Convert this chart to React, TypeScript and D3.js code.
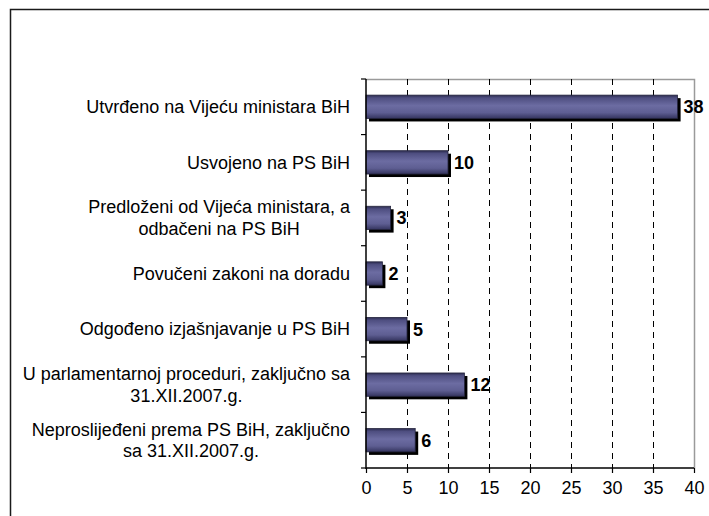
import { useEffect, useRef } from 'react'
import * as d3 from 'd3'

const categories: string[][] = [
  ['Utvrđeno na Vijeću ministara BiH'],
  ['Usvojeno na PS BiH'],
  ['Predloženi od Vijeća ministara, a', 'odbačeni na PS BiH'],
  ['Povučeni zakoni na doradu'],
  ['Odgođeno izjašnjavanje u PS BiH'],
  ['U parlamentarnoj proceduri, zaključno sa', '31.XII.2007.g.'],
  ['Neproslijeđeni prema PS BiH, zaključno', 'sa 31.XII.2007.g.'],
]
const values: number[] = [38, 10, 3, 2, 5, 12, 6]
const xTicks: number[] = [0, 5, 10, 15, 20, 25, 30, 35, 40]

export default function App() {
  const svgRef = useRef<SVGSVGElement>(null)

  useEffect(() => {
    const w = 709
    const h = 516
    const left = 366
    const right = 694
    const top = 79
    const bottom = 468
    const font = '"Liberation Sans", Arial, sans-serif'

    const svg = d3.select(svgRef.current)
      .attr('width', w)
      .attr('height', h)
    svg.selectAll('*').remove()

    //gradient for the bars
    const grad = svg.append('defs').append('linearGradient')
      .attr('id', 'barGrad')
      .attr('x1', 0).attr('y1', 0).attr('x2', 0).attr('y2', 1)
    const stops: [number, string][] = [
      [0, '#2c2c50'], [0.12, '#4e4e80'], [0.45, '#6c6ca2'],
      [0.75, '#5e5e92'], [1, '#34345e'],
    ]
    stops.forEach(([o, c]) => grad.append('stop').attr('offset', o).attr('stop-color', c))

    //outer frame
    svg.append('rect')
      .attr('x', 10.5).attr('y', 9.5)
      .attr('width', 720).attr('height', 530)
      .attr('fill', 'white')
      .attr('stroke', '#1a1a1a')
      .attr('stroke-width', 1.5)

    //scaling
    const xScale = d3.scaleLinear().domain([0, 40]).range([left, right])
    const yScale = d3.scaleBand<number>()
      .domain(d3.range(categories.length))
      .range([top, bottom])
      .paddingInner(0.58)
      .paddingOuter(0.29)
    const step = yScale.step()
    const center = (i: number) => (yScale(i) ?? 0) + yScale.bandwidth() / 2

    //plot frame (gray top/right)
    svg.append('path')
      .attr('d', `M${left},${top + 0.5}H${right + 0.5}V${bottom}`)
      .attr('fill', 'none')
      .attr('stroke', '#9a9a9a')
      .attr('stroke-width', 1.5)

    //dashed grid
    svg.append('g')
      .selectAll('line')
      .data(xTicks.filter(t => t > 0 && t < 40))
      .join('line')
        .attr('x1', d => Math.round(xScale(d)) + 0.5)
        .attr('x2', d => Math.round(xScale(d)) + 0.5)
        .attr('y1', top)
        .attr('y2', bottom)
        .attr('stroke', '#000')
        .attr('stroke-width', 1)
        .attr('stroke-dasharray', '6,5')

    //bars with shadow
    const bars = svg.append('g')
    bars.selectAll('.shadow')
      .data(values)
      .join('rect')
        .attr('class', 'shadow')
        .attr('x', xScale(0) + 3)
        .attr('y', (d, i) => (yScale(i) ?? 0) + 3)
        .attr('width', d => xScale(d) - xScale(0))
        .attr('height', yScale.bandwidth())
        .attr('fill', '#000')
    bars.selectAll('.bar')
      .data(values)
      .join('rect')
        .attr('class', 'bar')
        .attr('x', xScale(0))
        .attr('y', (d, i) => yScale(i) ?? 0)
        .attr('width', d => xScale(d) - xScale(0))
        .attr('height', yScale.bandwidth())
        .attr('fill', 'url(#barGrad)')
        .attr('stroke', '#26263f')
        .attr('stroke-width', 0.8)

    //value labels
    svg.append('g')
      .selectAll('text')
      .data(values)
      .join('text')
        .attr('x', d => xScale(d) + 6)
        .attr('y', (d, i) => center(i) + 6.5)
        .attr('font-family', font)
        .attr('font-size', 18)
        .attr('font-weight', 'bold')
        .attr('fill', '#000')
        .text(d => d)

    //axes
    const xAxis = d3.axisBottom(xScale)
      .tickValues(xTicks)
      .tickSize(5)
      .tickPadding(8)
    const gx = svg.append('g')
      .attr('transform', `translate(0, ${bottom})`)
      .call(xAxis)
    gx.select('.domain').attr('stroke', '#000').attr('stroke-width', 1.5)
      .attr('d', `M${left},0H${right}`)
    gx.selectAll('.tick line').attr('stroke', '#000').attr('stroke-width', 1.2)
    gx.selectAll('.tick text')
      .attr('font-family', font)
      .attr('font-size', 18)
      .attr('fill', '#000')

    //left axis line and ticks at category boundaries
    const gy = svg.append('g')
    gy.append('line')
      .attr('x1', left).attr('x2', left)
      .attr('y1', top).attr('y2', bottom + 1)
      .attr('stroke', '#000').attr('stroke-width', 1.5)
    gy.selectAll('.ytick')
      .data(d3.range(categories.length + 1))
      .join('line')
        .attr('class', 'ytick')
        .attr('x1', left - 5).attr('x2', left)
        .attr('y1', d => top + d * step)
        .attr('y2', d => top + d * step)
        .attr('stroke', '#000').attr('stroke-width', 1.2)

    //category labels: block right-aligned, lines centered
    const lineGap = 21.5
    categories.forEach((lines, i) => {
      const g = svg.append('g')
      const c = center(i)
      const y0 = c - ((lines.length - 1) * lineGap) / 2 + 6.3
      const texts = g.selectAll('text')
        .data(lines)
        .join('text')
          .attr('x', 0)
          .attr('y', (d, k) => y0 + k * lineGap)
          .attr('text-anchor', 'middle')
          .attr('font-family', font)
          .attr('font-size', 18)
          .attr('fill', '#000')
          .text(d => d)
      let maxW = 0
      texts.each(function () {
        maxW = Math.max(maxW, (this as SVGTextElement).getComputedTextLength())
      })
      g.attr('transform', `translate(${350 - maxW / 2}, 0)`)
    })
  }, [])

  return (
    <svg ref={svgRef} style={{ position: 'absolute', left: 0, top: 0, display: 'block' }}></svg>
  )
}
